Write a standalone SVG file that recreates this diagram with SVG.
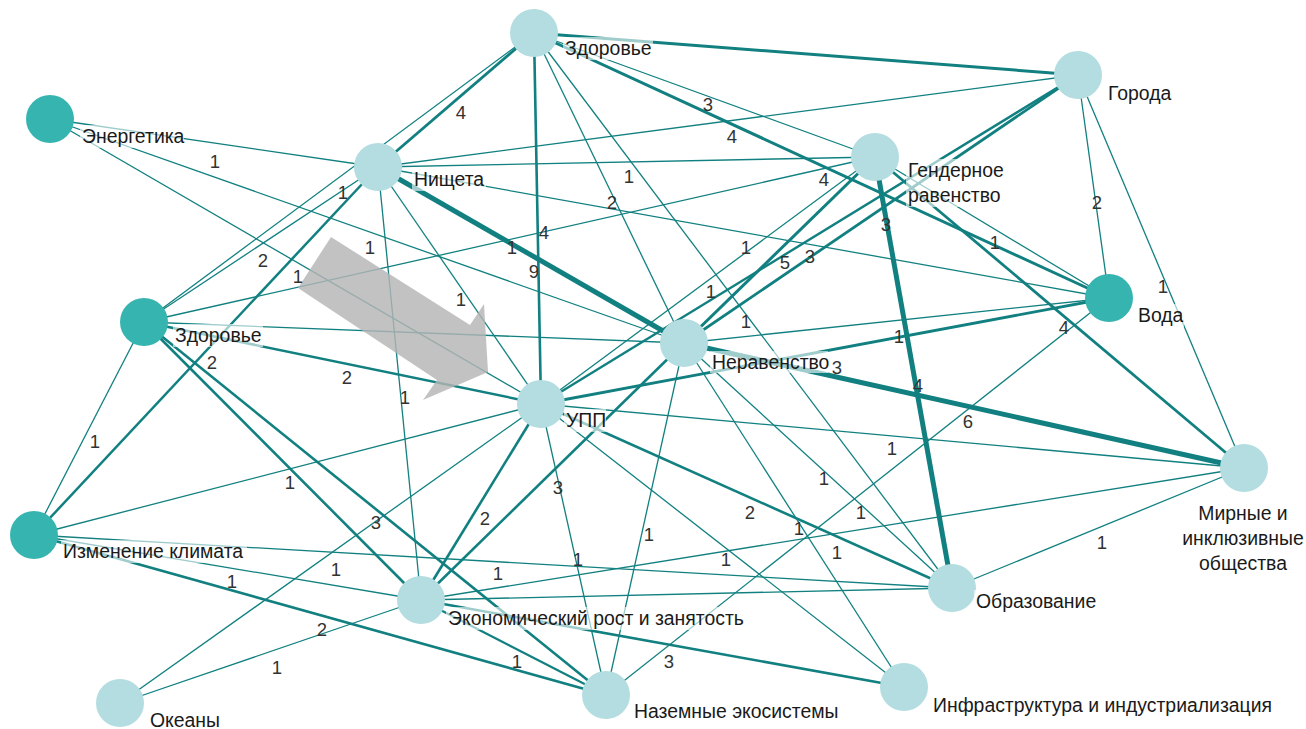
<svg xmlns="http://www.w3.org/2000/svg" width="1306" height="729" viewBox="0 0 1306 729">
<style>
.e{stroke:#128080;fill:none;stroke-width:1.3}
.lt{fill:#b3dde0}
.dk{fill:#36b4b0}
.lb{font-family:"Liberation Sans",Arial,sans-serif;font-size:19.4px;fill:#1a1a1a}
.bg{fill:#ffffff;fill-opacity:0.6}
.n{font-family:"Liberation Sans",Arial,sans-serif;font-size:18.5px;fill:#333333;text-anchor:middle}
</style>
<rect width="1306" height="729" fill="#ffffff"/>
<g id="connectors">
<line class="e" x1="534" y1="33" x2="1078" y2="75" style="stroke-width:3"/>
<line class="e" x1="534" y1="33" x2="378" y2="167" style="stroke-width:2.8"/>
<line class="e" x1="534" y1="33" x2="144" y2="322"/>
<line class="e" x1="534" y1="33" x2="875" y2="157"/>
<line class="e" x1="534" y1="33" x2="1109" y2="298" style="stroke-width:3"/>
<line class="e" x1="534" y1="33" x2="541" y2="404" style="stroke-width:2.6"/>
<line class="e" x1="534" y1="33" x2="684" y2="343"/>
<line class="e" x1="534" y1="33" x2="952" y2="588"/>
<line class="e" x1="50" y1="119" x2="378" y2="167"/>
<line class="e" x1="50" y1="119" x2="541" y2="404"/>
<line class="e" x1="50" y1="119" x2="684" y2="343"/>
<line class="e" x1="378" y1="167" x2="1078" y2="75"/>
<line class="e" x1="378" y1="167" x2="875" y2="157"/>
<line class="e" x1="378" y1="167" x2="1109" y2="298"/>
<line class="e" x1="378" y1="167" x2="684" y2="343" style="stroke-width:5"/>
<line class="e" x1="378" y1="167" x2="541" y2="404"/>
<line class="e" x1="378" y1="167" x2="421" y2="600"/>
<line class="e" x1="378" y1="167" x2="144" y2="322"/>
<line class="e" x1="378" y1="167" x2="34" y2="535" style="stroke-width:2.5"/>
<line class="e" x1="144" y1="322" x2="875" y2="157"/>
<line class="e" x1="144" y1="322" x2="684" y2="343"/>
<line class="e" x1="144" y1="322" x2="541" y2="404" style="stroke-width:2.5"/>
<line class="e" x1="144" y1="322" x2="421" y2="600" style="stroke-width:2.6"/>
<line class="e" x1="144" y1="322" x2="606" y2="695" style="stroke-width:2.6"/>
<line class="e" x1="144" y1="322" x2="34" y2="535"/>
<line class="e" x1="875" y1="157" x2="684" y2="343" style="stroke-width:3"/>
<line class="e" x1="875" y1="157" x2="541" y2="404"/>
<line class="e" x1="875" y1="157" x2="1109" y2="298"/>
<line class="e" x1="875" y1="157" x2="952" y2="588" style="stroke-width:5"/>
<line class="e" x1="875" y1="157" x2="1244" y2="468" style="stroke-width:2.8"/>
<line class="e" x1="1078" y1="75" x2="1109" y2="298"/>
<line class="e" x1="1078" y1="75" x2="684" y2="343" style="stroke-width:2.8"/>
<line class="e" x1="1078" y1="75" x2="541" y2="404" style="stroke-width:2.4"/>
<line class="e" x1="1078" y1="75" x2="1244" y2="468"/>
<line class="e" x1="1109" y1="298" x2="684" y2="343"/>
<line class="e" x1="1109" y1="298" x2="541" y2="404" style="stroke-width:2.8"/>
<line class="e" x1="1109" y1="298" x2="606" y2="695"/>
<line class="e" x1="684" y1="343" x2="1244" y2="468" style="stroke-width:5"/>
<line class="e" x1="684" y1="343" x2="952" y2="588"/>
<line class="e" x1="684" y1="343" x2="904" y2="687"/>
<line class="e" x1="684" y1="343" x2="606" y2="695"/>
<line class="e" x1="684" y1="343" x2="421" y2="600" style="stroke-width:2.6"/>
<line class="e" x1="541" y1="404" x2="34" y2="535"/>
<line class="e" x1="541" y1="404" x2="120" y2="703"/>
<line class="e" x1="541" y1="404" x2="421" y2="600" style="stroke-width:2.6"/>
<line class="e" x1="541" y1="404" x2="606" y2="695"/>
<line class="e" x1="541" y1="404" x2="904" y2="687"/>
<line class="e" x1="541" y1="404" x2="952" y2="588" style="stroke-width:2.6"/>
<line class="e" x1="541" y1="404" x2="1244" y2="468"/>
<line class="e" x1="34" y1="535" x2="421" y2="600"/>
<line class="e" x1="34" y1="535" x2="606" y2="695" style="stroke-width:2.6"/>
<line class="e" x1="34" y1="535" x2="952" y2="588"/>
<line class="e" x1="120" y1="703" x2="421" y2="600"/>
<line class="e" x1="421" y1="600" x2="606" y2="695" style="stroke-width:2.2"/>
<line class="e" x1="421" y1="600" x2="904" y2="687" style="stroke-width:2.6"/>
<line class="e" x1="421" y1="600" x2="952" y2="588"/>
<line class="e" x1="421" y1="600" x2="1244" y2="468"/>
<line class="e" x1="952" y1="588" x2="1244" y2="468"/>
</g>
<g id="arrow">
<polygon points="331,237 470,325 484,304 488,372 423,400 437,380 298,288" fill="#b4b4b4" fill-opacity="0.82"/>
</g>
<g id="n-zdorovie-top"><circle class="lt" cx="534" cy="33" r="24"/><rect class="bg" x="563" y="37" width="90" height="23"/><text class="lb" x="565" y="55">Здоровье</text></g>
<g id="n-goroda"><circle class="lt" cx="1078" cy="75" r="24"/><rect class="bg" x="1106" y="82" width="66" height="23"/><text class="lb" x="1108" y="100">Города</text></g>
<g id="n-energetika"><circle class="dk" cx="50" cy="119" r="24"/><rect class="bg" x="80" y="125" width="104" height="23"/><text class="lb" x="82" y="143">Энергетика</text></g>
<g id="n-nishcheta"><circle class="lt" cx="378" cy="167" r="24"/><rect class="bg" x="412" y="168" width="74" height="23"/><text class="lb" x="414" y="186">Нищета</text></g>
<g id="n-gender"><circle class="lt" cx="875" cy="157" r="24"/><rect class="bg" x="906" y="159" width="98" height="48"/><text class="lb" x="908" y="177">Гендерное</text><text class="lb" x="908" y="202">равенство</text></g>
<g id="n-voda"><circle class="dk" cx="1109" cy="298" r="24"/><rect class="bg" x="1136" y="304" width="48" height="23"/><text class="lb" x="1138" y="322">Вода</text></g>
<g id="n-zdorovie-left"><circle class="dk" cx="144" cy="322" r="24"/><rect class="bg" x="173" y="324" width="90" height="23"/><text class="lb" x="175" y="342">Здоровье</text></g>
<g id="n-neravenstvo"><circle class="lt" cx="684" cy="343" r="24"/><rect class="bg" x="710" y="351" width="118" height="22"/><text class="lb" x="712" y="369">Неравенство</text></g>
<g id="n-upp"><circle class="lt" cx="541" cy="404" r="24"/><rect class="bg" x="564" y="409" width="42" height="23"/><text class="lb" x="566" y="427">УПП</text></g>
<g id="n-mirnye"><circle class="lt" cx="1244" cy="468" r="24"/><rect class="bg" x="1178" y="502" width="128" height="73"/><text class="lb" x="1243" y="520" text-anchor="middle">Мирные и</text><text class="lb" x="1243" y="545" text-anchor="middle">инклюзивные</text><text class="lb" x="1243" y="570" text-anchor="middle">общества</text></g>
<g id="n-klimat"><circle class="dk" cx="34" cy="535" r="24"/><rect class="bg" x="61" y="540" width="186" height="23"/><text class="lb" x="63" y="558">Изменение климата</text></g>
<g id="n-ekonomika"><circle class="lt" cx="421" cy="600" r="24"/><rect class="bg" x="446" y="607" width="302" height="23"/><text class="lb" x="448" y="625">Экономический рост и занятость</text></g>
<g id="n-obrazovanie"><circle class="lt" cx="952" cy="588" r="24"/><rect class="bg" x="974" y="590" width="124" height="23"/><text class="lb" x="976" y="608">Образование</text></g>
<g id="n-okeany"><circle class="lt" cx="120" cy="703" r="24"/><rect class="bg" x="148" y="709" width="74" height="20"/><text class="lb" x="150" y="727">Океаны</text></g>
<g id="n-nazemnye"><circle class="lt" cx="606" cy="695" r="24"/><rect class="bg" x="632" y="700" width="208" height="23"/><text class="lb" x="634" y="718">Наземные экосистемы</text></g>
<g id="n-infra"><circle class="lt" cx="904" cy="687" r="24"/><rect class="bg" x="931" y="694" width="340" height="23"/><text class="lb" x="933" y="712">Инфраструктура и индустриализация</text></g>
<g id="edge-labels">
<text class="n" x="215" y="168">1</text>
<text class="n" x="343" y="199">1</text>
<text class="n" x="461" y="119">4</text>
<text class="n" x="708" y="111">3</text>
<text class="n" x="732" y="143">4</text>
<text class="n" x="629" y="183">1</text>
<text class="n" x="612" y="209">2</text>
<text class="n" x="824" y="186">4</text>
<text class="n" x="544" y="239">4</text>
<text class="n" x="512" y="254">1</text>
<text class="n" x="1097" y="209">2</text>
<text class="n" x="886" y="231">3</text>
<text class="n" x="995" y="249">1</text>
<text class="n" x="263" y="267">2</text>
<text class="n" x="298" y="283">1</text>
<text class="n" x="370" y="254">1</text>
<text class="n" x="212" y="369">2</text>
<text class="n" x="347" y="384">2</text>
<text class="n" x="405" y="404">1</text>
<text class="n" x="95" y="448">1</text>
<text class="n" x="290" y="489">1</text>
<text class="n" x="534" y="278">9</text>
<text class="n" x="461" y="306">1</text>
<text class="n" x="746" y="254">1</text>
<text class="n" x="785" y="269">5</text>
<text class="n" x="810" y="263">3</text>
<text class="n" x="711" y="298">1</text>
<text class="n" x="746" y="328">1</text>
<text class="n" x="837" y="374">3</text>
<text class="n" x="824" y="485">1</text>
<text class="n" x="558" y="494">3</text>
<text class="n" x="1163" y="293">1</text>
<text class="n" x="1064" y="334">4</text>
<text class="n" x="899" y="343">1</text>
<text class="n" x="918" y="392">4</text>
<text class="n" x="968" y="428">6</text>
<text class="n" x="892" y="455">1</text>
<text class="n" x="376" y="529">3</text>
<text class="n" x="336" y="576">1</text>
<text class="n" x="232" y="588">1</text>
<text class="n" x="322" y="636">2</text>
<text class="n" x="277" y="674">1</text>
<text class="n" x="485" y="525">2</text>
<text class="n" x="649" y="541">1</text>
<text class="n" x="578" y="566">1</text>
<text class="n" x="498" y="580">1</text>
<text class="n" x="750" y="519">2</text>
<text class="n" x="799" y="535">1</text>
<text class="n" x="726" y="566">1</text>
<text class="n" x="837" y="559">1</text>
<text class="n" x="861" y="519">1</text>
<text class="n" x="517" y="668">1</text>
<text class="n" x="669" y="668">3</text>
<text class="n" x="1102" y="549">1</text>
</g>
</svg>
